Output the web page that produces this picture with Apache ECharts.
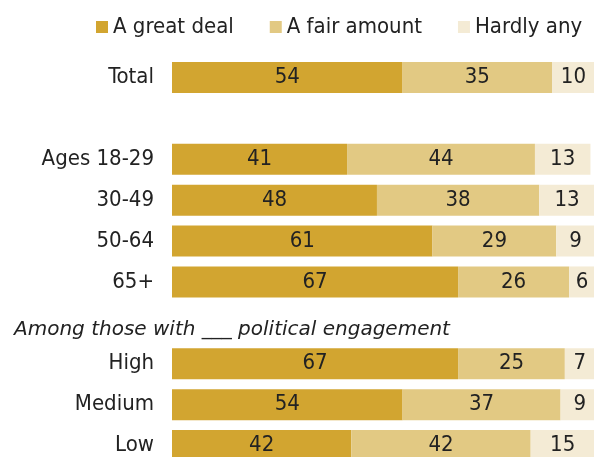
<!DOCTYPE html>
<html><head><meta charset="utf-8">
<script src="https://cdn.jsdelivr.net/npm/echarts@6/dist/echarts.min.js"></script>
<style>html,body{margin:0;padding:0;background:#fff}#c{width:594px;height:457px}</style>
</head><body><div id="c"></div>
<script>
const categories = ['Total', '', 'Ages 18-29', '30-49', '50-64', '65+', ' ', 'High', 'Medium', 'Low'];
const greatDeal = [54, null, 41, 48, 61, 67, null, 67, 54, 42];
const fairAmount = [35, null, 44, 38, 29, 26, null, 25, 37, 42];
const hardlyAny = [10, null, 13, 13, 9, 6, null, 7, 9, 15];
const seriesNames = ['A great deal', 'A fair amount', 'Hardly any'];
const sectionTitle = 'Among those with ___ political engagement';

const FONT = '"DejaVu Sans Condensed", sans-serif';
const colors = ['#d2a530', '#e2c983', '#f4ebd5'];
const chart = echarts.init(document.getElementById('c'), null, {renderer: 'canvas'});
function mk(name, data, color) {
  return {
    name: name, type: 'bar', stack: 'all', data: data, barWidth: 31,
    itemStyle: {color: color},
    label: {show: true, position: 'inside', color: '#222', fontFamily: FONT, fontSize: 22},
    emphasis: {disabled: true}
  };
}
chart.setOption({
  animation: false,
  textStyle: {fontFamily: FONT},
  legend: {
    left: 91, top: 11, itemWidth: 12, itemHeight: 12, itemGap: 36,
    icon: 'rect', selectedMode: false,
    textStyle: {fontFamily: FONT, fontSize: 22, color: '#222'},
    data: seriesNames
  },
  grid: {left: 172, top: 57, height: 409, width: 427, containLabel: false, outerBoundsMode: 'none'},
  xAxis: {type: 'value', min: 0, max: 100, show: false},
  yAxis: {
    type: 'category', data: categories, inverse: true,
    axisLine: {show: false}, axisTick: {show: false}, splitLine: {show: false},
    axisLabel: {fontFamily: FONT, fontSize: 22, color: '#222', margin: 18}
  },
  graphic: [{
    type: 'text', x: 14, y: 330,
    style: {text: sectionTitle, font: 'italic 20px "DejaVu Sans", sans-serif', fill: '#222', verticalAlign: 'middle'}
  }],
  series: [mk(seriesNames[0], greatDeal, colors[0]), mk(seriesNames[1], fairAmount, colors[1]), mk(seriesNames[2], hardlyAny, colors[2])]
});
</script></body></html>
